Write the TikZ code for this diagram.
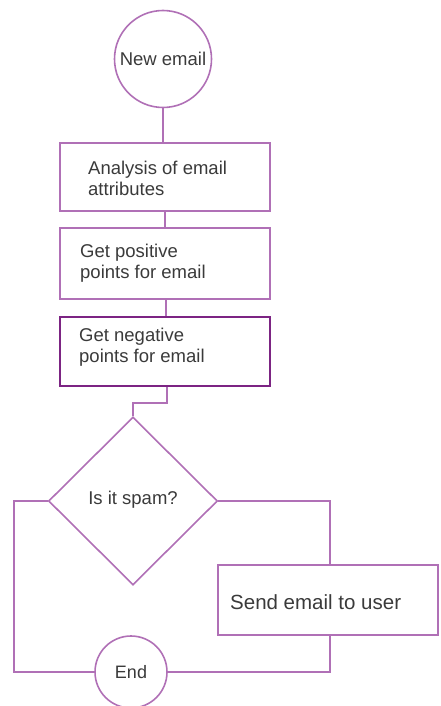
\documentclass[tikz,border=0pt]{standalone}
\usepackage{fontspec}
\setmainfont{Liberation Sans}
\usetikzlibrary{shapes.geometric}
\definecolor{lilac}{HTML}{B070B6}
\definecolor{plum}{HTML}{7C2483}
\definecolor{ink}{HTML}{3A3A3A}
\tikzset{
  flow/.style={draw=lilac, line width=1.6pt},
  box/.style={flow, rectangle, inner sep=0pt},
  boldbox/.style={box, draw=plum, line width=2.4pt},
  term/.style={flow, circle, inner sep=0pt},
  decision/.style={flow, diamond, inner sep=0pt, minimum width=169pt, minimum height=168pt},
  lbl/.style={text=ink, font=\fontsize{18.5pt}{21pt}\selectfont, align=left, inner sep=0pt},
  conn/.style={draw=lilac, line width=1.6pt}
}
\begin{document}
\begin{tikzpicture}[x=1pt, y=-1pt]
  \useasboundingbox (0,0) rectangle (441,706);

  % start terminal
  \node[term, minimum size=97pt, text=ink, font=\fontsize{18.5pt}{21pt}\selectfont] (start) at (163,59) {New email};

  % processing steps
  \node[box, minimum width=210pt, minimum height=68pt] (b1) at (165,177) {};
  \node[lbl, anchor=west] (t1) at (88,178) {Analysis of email\\attributes};

  \node[box, minimum width=210pt, minimum height=71pt] (b2) at (165,263.5) {};
  \node[lbl, anchor=west] (t2) at (80,263.5) {Get positive\\points for email};

  \node[boldbox, minimum width=210pt, minimum height=69pt] (b3) at (165,351.5) {};
  \node[lbl, anchor=west] (t3) at (79,347.5) {Get negative\\points for email};

  % decision
  \node[decision] (d) at (133,501) {};
  \node[lbl] (dt) at (133,500) {Is it spam?};

  % delivery
  \node[box, minimum width=220pt, minimum height=70pt] (send) at (328,600) {};
  \node[lbl, anchor=west, font=\fontsize{20.5pt}{23pt}\selectfont] (st) at (230,602) {Send email to user};

  % end terminal
  \node[term, minimum size=72pt, text=ink, font=\fontsize{18pt}{21pt}\selectfont] (end) at (131,672) {End};

  % connectors
  \draw[conn] (start.south) -- (start.south |- b1.north);
  \draw[conn] (b1.south) -- (b2.north);
  \draw[conn] ([xshift=1pt]b2.south) -- ([xshift=1pt]b3.north);
  \draw[conn] ([xshift=2pt]b3.south) -- ++(0,16) -| (d.north);
  \draw[conn] (d.west) -- ++(-34,0) |- (end.west);
  \draw[conn] (d.east) -| ([xshift=2pt]send.north);
  \draw[conn] ([xshift=2pt]send.south) |- (end.east);
\end{tikzpicture}
\end{document}
